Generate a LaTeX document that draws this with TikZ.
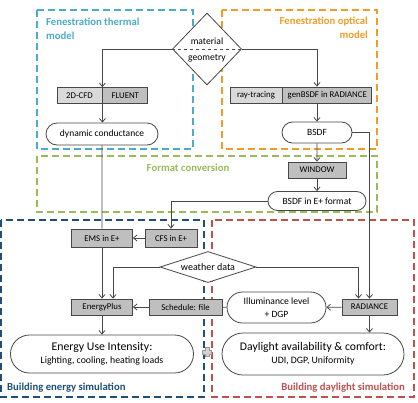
\documentclass[tikz,border=0pt]{standalone}
\usepackage{fontspec}
\setmainfont{Carlito}
\usetikzlibrary{arrows.meta,shapes.geometric,shapes.misc,calc}
\definecolor{thermal}{HTML}{4BACC6}
\definecolor{optical}{HTML}{F39C25}
\definecolor{convert}{HTML}{9BBB59}
\definecolor{energy}{HTML}{1F4E79}
\definecolor{daylight}{HTML}{C0504D}
\definecolor{ink}{HTML}{474747}
\definecolor{boxfill}{HTML}{BFBFBF}
\definecolor{boxlight}{HTML}{D9D9D9}
\tikzset{
  zone/.style={dash pattern=on 7pt off 4pt,line width=1.3pt},
  ztitle/.style={font=\bfseries\fontsize{10.7}{14}\selectfont,inner sep=0pt},
  pbox/.style={draw=ink,fill=boxfill,line width=0.8pt,inner sep=0pt,minimum height=16pt,font=\fontsize{8.8}{10}\selectfont},
  term/.style={rounded rectangle,draw=ink,fill=white,line width=0.8pt,inner sep=0pt,align=center,font=\fontsize{9.5}{12}\selectfont},
  decide/.style={diamond,draw=ink,fill=white,line width=0.8pt,inner sep=0pt,font=\fontsize{10}{11}\selectfont},
  plaintxt/.style={inner sep=0pt,font=\fontsize{9.6}{11}\selectfont},
  varr/.style={-{Straight Barb[length=3.5pt,width=6pt]},line width=0.8pt,draw=ink},
  vline/.style={line width=0.8pt,draw=ink}
}

\begin{document}
\begin{tikzpicture}[x=1pt,y=-1pt]
  \useasboundingbox (0,0) rectangle (418,402);
  % dashed zones
  \draw[zone,thermal] (37,10) rectangle (193,149);
  \draw[zone,optical] (222,10) rectangle (377,149);
  \draw[zone,convert] (37,156) rectangle (377,212);
  \draw[zone,energy] (1,220) rectangle (204,397);
  \draw[zone,daylight] (212,220) rectangle (414,397);
  \node[ztitle,text=thermal,anchor=north west,align=left] (tthermal) at (46,18) {Fenestration thermal\\model};
  \node[ztitle,text=optical,anchor=north east,align=right] (toptical) at (368,17) {Fenestration optical\\model};
  \node[ztitle,text=convert] (tconvert) at (188,168) {Format conversion};
  \node[ztitle,text=energy,anchor=west] (tenergy) at (7,388) {Building energy simulation};
  \node[ztitle,text=daylight,anchor=east] (tdaylight) at (405,388) {Building daylight simulation};

  % fenestration models
  \node[decide,minimum width=69pt,minimum height=72pt] (matgeo) at (207,49) {};
  \draw[vline,dashed] (matgeo.west) -- (matgeo.east);
  \node[plaintxt] (mat) at (207,41) {material};
  \node[plaintxt] (geo) at (207,58) {geometry};
  \node[pbox,fill=boxlight,minimum width=45pt] (cfd) at (79.5,95.5) {2D-CFD};
  \node[pbox,minimum width=45pt,anchor=west] (fluent) at (cfd.east) {FLUENT};
  \node[term,minimum width=112pt,minimum height=22pt] (dyncond) at (102,134) {dynamic conductance};
  \node[pbox,fill=boxlight,minimum width=52pt] (raytrace) at (256,95) {ray-tracing};
  \node[pbox,minimum width=89pt,anchor=west] (genbsdf) at (raytrace.east) {genBSDF in RADIANCE};
  \node[term,minimum width=70pt,minimum height=21pt] (bsdf) at (317,132.5) {BSDF};

  % format conversion
  \node[pbox,minimum width=58pt] (window) at (317,170) {WINDOW};
  \node[term,minimum width=98pt,minimum height=19pt] (bsdfep) at (317,201) {BSDF in E+ format};

  % building simulation
  \node[pbox,minimum width=52pt,minimum height=18pt] (cfs) at (171,238) {CFS in E+};
  \node[pbox,minimum width=61pt,minimum height=18pt] (ems) at (102,238) {EMS in E+};
  \node[decide,aspect=3,minimum width=96pt,minimum height=31pt] (weather) at (208,267) {weather data};
  \node[pbox,minimum width=61pt] (eplus) at (102,307) {EnergyPlus};
  \node[pbox,minimum width=73pt] (sched) at (185.5,307) {Schedule: file};
  \node[term,minimum width=99pt,minimum height=31pt,font=\fontsize{9.6}{12.5}\selectfont] (illum) at (276.5,307.5) {Illuminance level\\+ DGP};
  \node[pbox,minimum width=55pt] (radiance) at (369.5,307) {RADIANCE};
  \node[term,minimum width=183pt,minimum height=38pt,font=\fontsize{9.8}{13}\selectfont] (eui) at (102,354) {{\fontsize{11.8}{14}\selectfont Energy Use Intensity:}\\Lighting, cooling, heating loads};
  \node[term,minimum width=182pt,minimum height=42pt,font=\fontsize{9.8}{13}\selectfont] (daylt) at (313,354) {{\fontsize{11.7}{14}\selectfont Daylight availability \& comfort:}\\UDI, DGP, Uniformity};
  % plus sign between the two simulations
  \draw[draw=gray!80,fill=gray!35,line width=0.6pt,shift={(207,352)}]
    (-1.8,-4.5) -- (1.8,-4.5) -- (1.8,-1.8) -- (4.5,-1.8) -- (4.5,1.8) -- (1.8,1.8)
    -- (1.8,4.5) -- (-1.8,4.5) -- (-1.8,1.8) -- (-4.5,1.8) -- (-4.5,-1.8) -- (-1.8,-1.8) -- cycle;

  \draw[varr] (matgeo.west) -| (cfd.north east);
  \draw[varr] (matgeo.east) -| (genbsdf.north -| bsdf.north);
  \draw[varr] (cfd.south east) -- (cfd.south east |- dyncond.north);
  \draw[varr] (genbsdf.south -| bsdf.north) -- (bsdf.north);
  \draw[vline] (dyncond) -- (ems);
  \draw[varr] (bsdf) -- (window);
  \draw[varr] (window) -- (bsdfep);
  \draw[varr] (bsdf.east) -| (radiance.north);
  \draw[varr] (bsdfep.west) -| (cfs.north);
  \draw[varr] (cfs) -- (ems);
  \draw[varr] (ems) -- (eplus);
  \draw[varr] (weather.west) -| ($(eplus.north)+(11,0)$);
  \draw[varr] (weather.east) -| ($(radiance.north)+(-11,0)$);
  \draw[varr] (sched) -- (eplus);
  \draw[vline] (illum) -- (sched);
  \draw[varr] (radiance) -- (illum);
  \draw[varr] (radiance.south) -- (radiance.south |- daylt.north);
  \draw[varr] (eplus) -- (eui);
\end{tikzpicture}
\end{document}
